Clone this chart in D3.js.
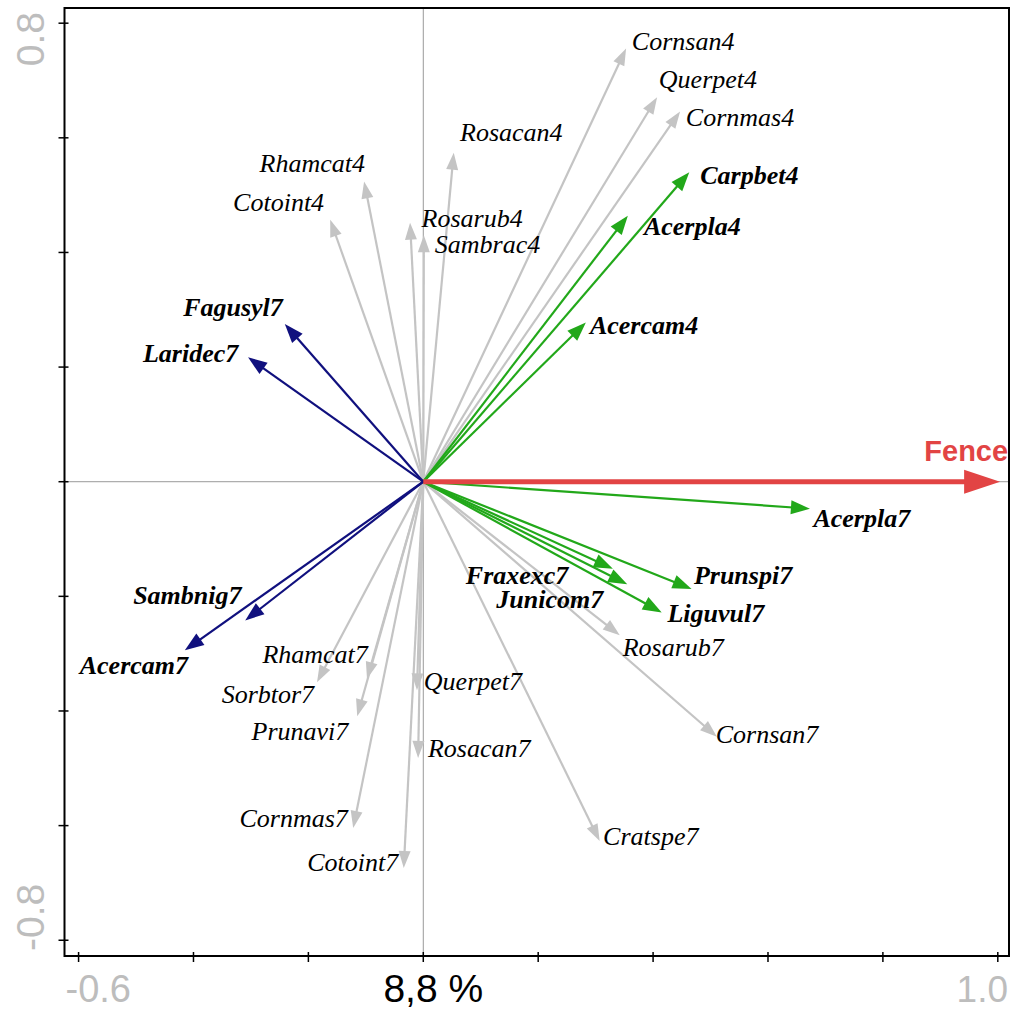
<!DOCTYPE html>
<html><head><meta charset="utf-8">
<script src="https://cdn.jsdelivr.net/npm/d3@7"></script>
<style>html,body{margin:0;padding:0;background:#fff;}</style>
</head><body>
<script>
// ---- data ----
const speciesNames = ["Cornsan4","Querpet4","Cornmas4","Rosacan4","Rhamcat4","Cotoint4","Rosarub4","Sambrac4",
  "Rosarub7","Cornsan7","Cratspe7","Querpet7","Rosacan7","Cornmas7","Cotoint7","Rhamcat7","Sorbtor7","Prunavi7",
  "Carpbet4","Acerpla4","Acercam4","Acerpla7","Fraxexc7","Junicom7","Prunspi7","Liguvul7",
  "Fagusyl7","Laridec7","Sambnig7","Acercam7"];
const speciesGroup = ["n","n","n","n","n","n","n","n",
  "n","n","n","n","n","n","n","n","n","n",
  "pos","pos","pos","pos","pos","pos","pos","pos",
  "neg","neg","neg","neg"];
const axis1 = [0.353,0.407,0.447,0.053,-0.103,-0.162,-0.023,0.001,
  0.342,0.511,0.307,-0.011,-0.009,-0.122,-0.034,-0.098,-0.185,-0.115,
  0.463,0.356,0.283,0.673,0.330,0.355,0.467,0.415,
  -0.241,-0.305,-0.310,-0.415];
const axis2 = [0.756,0.671,0.646,0.574,0.524,0.457,0.452,0.430,
  -0.268,-0.445,-0.627,-0.364,-0.482,-0.604,-0.674,-0.344,-0.350,-0.409,
  0.540,0.464,0.278,-0.047,-0.152,-0.179,-0.187,-0.228,
  0.275,0.217,-0.242,-0.294];
// label anchor points (left/baseline) in ordination units
const labelAxis1 = [0.363,0.410,0.457,0.064,-0.285,-0.331,-0.003,0.020,
  0.347,0.509,0.313,0.001,0.008,-0.320,-0.202,-0.280,-0.351,-0.299,
  0.482,0.384,0.290,0.679,0.074,0.127,0.471,0.425,
  -0.418,-0.488,-0.505,-0.598];
const labelAxis2 = [0.753,0.687,0.621,0.595,0.540,0.473,0.444,0.399,
  -0.304,-0.456,-0.634,-0.364,-0.480,-0.603,-0.679,-0.316,-0.386,-0.451,
  0.520,0.430,0.257,-0.079,-0.179,-0.220,-0.178,-0.244,
  0.289,0.209,-0.213,-0.336];
const envName = ["Fence"];
const envAxis1 = [1.004];
const envAxis2 = [0.0];
const xTicks = [-0.6,-0.4,-0.2,0,0.2,0.4,0.6,0.8,1.0];
const yTicks = [-0.8,-0.6,-0.4,-0.2,0,0.2,0.4,0.6,0.8];
const xTickLabels = ["-0.6","1.0"];
const yTickLabels = ["0.8","-0.8"];
const axisTitle = "8,8 %";

// ---- drawing ----
const W = 1013, H = 1012;
const svg = d3.select("body").append("svg").attr("width", W).attr("height", H);
const x = d3.scaleLinear().domain([-0.6245, 1.0195]).range([64.5, 1009]);
const y = d3.scaleLinear().domain([-0.8275, 0.8265]).range([956, 8]);

// reference lines
svg.append("line").attr("x1", x(0)).attr("x2", x(0)).attr("y1", y.range()[1]).attr("y2", y.range()[0])
  .attr("stroke", "#9a9a9a").attr("stroke-width", 1);
svg.append("line").attr("x1", x.range()[0]).attr("x2", x.range()[1]).attr("y1", y(0)).attr("y2", y(0))
  .attr("stroke", "#9a9a9a").attr("stroke-width", 1);

const colors = {n: "#c4c4c4", pos: "#22a81a", neg: "#10107e"};

function arrow(g, x1, y1, color, sw, hl, hw) {
  const ox = x(0), oy = y(0), tx = x(x1), ty = y(y1);
  const dx = tx - ox, dy = ty - oy, len = Math.hypot(dx, dy);
  const ux = dx / len, uy = dy / len, nx = -uy, ny = ux;
  const bx = tx - ux * hl, by = ty - uy * hl;
  g.append("line").attr("x1", ox).attr("y1", oy)
    .attr("x2", tx - ux * hl * 0.7).attr("y2", ty - uy * hl * 0.7)
    .attr("stroke", color).attr("stroke-width", sw);
  g.append("path").attr("d", `M${tx},${ty}L${bx + nx * hw / 2},${by + ny * hw / 2}L${bx - nx * hw / 2},${by - ny * hw / 2}Z`)
    .attr("fill", color);
}

const gA = svg.append("g");
["n", "pos", "neg"].forEach(grp => {
  speciesNames.forEach((nm, i) => {
    if (speciesGroup[i] !== grp) return;
    if (grp === "n") arrow(gA, axis1[i], axis2[i], colors.n, 2.2, 17, 12);
    else arrow(gA, axis1[i], axis2[i], colors[grp], 2.2, 19, 14);
  });
});
envName.forEach((nm, i) => arrow(gA, envAxis1[i], envAxis2[i], "#e24444", 5, 36, 24));

// box
svg.append("rect").attr("x", x.range()[0]).attr("y", y.range()[1])
  .attr("width", x.range()[1] - x.range()[0]).attr("height", y.range()[0] - y.range()[1])
  .attr("fill", "none").attr("stroke", "#000").attr("stroke-width", 2);

// ticks
const bottom = y.range()[0], left = x.range()[0];
svg.append("g").selectAll("line").data(xTicks).join("line")
  .attr("x1", d => x(d)).attr("x2", d => x(d)).attr("y1", bottom - 4).attr("y2", bottom + 6)
  .attr("stroke", "#000").attr("stroke-width", 1.5);
svg.append("g").selectAll("line").data(yTicks).join("line")
  .attr("y1", d => y(d)).attr("y2", d => y(d)).attr("x1", left - 6).attr("x2", left + 4)
  .attr("stroke", "#000").attr("stroke-width", 1.5);

// tick labels
const tickFont = "'Liberation Sans', Arial, sans-serif";
svg.append("text").attr("x", left + 1).attr("y", 1002).attr("text-anchor", "start")
  .attr("font-family", tickFont).attr("font-size", 38).attr("fill", "#bdbdbd").text(xTickLabels[0]);
svg.append("text").attr("x", x.range()[1] - 1).attr("y", 1002).attr("text-anchor", "end")
  .attr("font-family", tickFont).attr("font-size", 37).attr("fill", "#bdbdbd").text(xTickLabels[1]);
svg.append("text").attr("transform", `translate(44,${y.range()[1] + 4}) rotate(-90)`).attr("text-anchor", "end")
  .attr("font-family", tickFont).attr("font-size", 39).attr("fill", "#bdbdbd").text(yTickLabels[0]);
svg.append("text").attr("transform", `translate(44,${bottom - 5}) rotate(-90)`).attr("text-anchor", "start")
  .attr("font-family", tickFont).attr("font-size", 39).attr("fill", "#bdbdbd").text(yTickLabels[1]);
svg.append("text").attr("x", x(0) + 10).attr("y", 1002).attr("text-anchor", "middle")
  .attr("font-family", tickFont).attr("font-size", 39).attr("fill", "#000").text(axisTitle);

// species labels
const labFont = "'Liberation Serif', 'Times New Roman', serif";
svg.append("g").selectAll("text").data(speciesNames).join("text")
  .attr("x", (d, i) => x(labelAxis1[i])).attr("y", (d, i) => y(labelAxis2[i]))
  .attr("font-family", labFont).attr("font-size", 26).attr("font-style", "italic")
  .attr("font-weight", (d, i) => speciesGroup[i] === "n" ? "normal" : "bold")
  .attr("fill", "#000").text(d => d);

// env label
svg.append("text").attr("x", x(1.018)).attr("y", y(0.037)).attr("text-anchor", "end")
  .attr("font-family", tickFont).attr("font-size", 29).attr("font-weight", "bold")
  .attr("fill", "#e24444").text(envName[0]);
</script>
</body></html>
